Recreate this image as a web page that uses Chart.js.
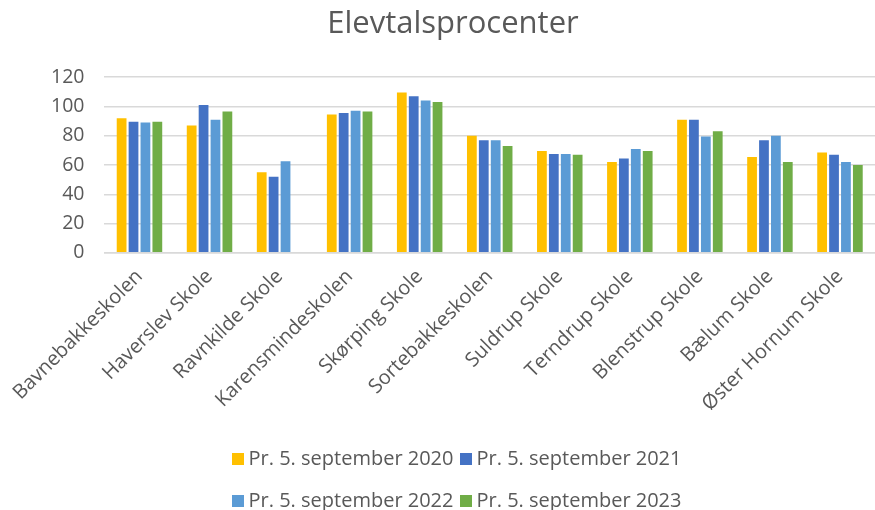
<!DOCTYPE html>
<html>
<head>
<meta charset="utf-8">
<script src="https://cdn.jsdelivr.net/npm/chart.js@4/dist/chart.umd.min.js"></script>
<style>
    body { margin: 0; background: #fff; }
    #wrap { position: relative; width: 875px; height: 510px; overflow: hidden; }
    #legende {
        position: absolute; left: 44px; top: 437px; width: 831px;
        font-family: "Open Sans", Lato, sans-serif; font-size: 20px; color: #595959;
        text-align: center; line-height: 42px;
    }
    #legende .rang { white-space: nowrap; }
    #legende .boks { display: inline-block; width: 12px; height: 12px; margin-right: 5px; vertical-align: 0px; }
    #legende .punkt { margin-right: 6px; }
</style>
</head>
<body>
<div id="wrap">
    <canvas id="chartElever" width="875" height="510"></canvas>
    <div id="legende"></div>
</div>
<script>
var skoler = ["Bavnebakkeskolen", "Haverslev Skole", "Ravnkilde Skole", "Karensmindeskolen", "Skørping Skole",
    "Sortebakkeskolen", "Suldrup Skole", "Terndrup Skole", "Blenstrup Skole", "Bælum Skole", "Øster Hornum Skole"];
var serieNavne = ["Pr. 5. september 2020", "Pr. 5. september 2021", "Pr. 5. september 2022", "Pr. 5. september 2023"];
var pct2020 = [92, 87, 55, 94.5, 109.5, 80, 69.5, 62, 91, 65.5, 68.5];
var pct2021 = [89.5, 101, 52, 95.5, 107, 77, 67.5, 64.5, 91, 77, 67];
var pct2022 = [89, 91, 62.5, 97, 104, 77, 67.5, 71, 79.5, 80, 62];
var pct2023 = [89.5, 96.5, null, 96.5, 103, 73, 67, 69.5, 83, 62, 60];
var farver = ['#FFC000', '#4472C4', '#5B9BD5', '#70AD47'];

var grå = '#595959';
var font = '"Open Sans", Lato, sans-serif';
var alleData = [pct2020, pct2021, pct2022, pct2023];

var datasets = [];
for (var i = 0; i < serieNavne.length; i++) {
    datasets.push({
        label: serieNavne[i],
        data: alleData[i],
        backgroundColor: farver[i],
        borderWidth: 0,
        barPercentage: 0.82,
        categoryPercentage: 0.68
    });
}

var ctx = document.getElementById('chartElever').getContext('2d');
var chart = new Chart(ctx, {
    type: 'bar',
    data: { labels: skoler, datasets: datasets },
    options: {
        responsive: false,
        animation: false,
        layout: { padding: { left: 31, right: 0, top: 0, bottom: 90 } },
        plugins: {
            legend: { display: false },
            tooltip: { enabled: false },
            title: {
                display: true,
                text: 'Elevtalsprocenter',
                color: grå,
                font: { family: font, size: 31, weight: 'normal' },
                padding: { top: 6, bottom: 34 }
            }
        },
        scales: {
            y: {
                min: 0, max: 120,
                ticks: { stepSize: 20, color: grå, font: { family: font, size: 19.5 }, padding: 20 },
                grid: { color: '#d9d9d9', lineWidth: 1.5, drawTicks: false },
                border: { display: false }
            },
            x: {
                ticks: { color: grå, font: { family: font, size: 20 }, minRotation: 45, maxRotation: 45, autoSkip: false, padding: 4 },
                grid: { display: false },
                border: { color: '#d9d9d9', width: 1.5 }
            }
        }
    }
});

// legend i to rækker som i Excel
var legende = document.getElementById('legende');
var html = '';
for (var r = 0; r < 2; r++) {
    html += '<div class="rang">';
    for (var k = r * 2; k < r * 2 + 2; k++) {
        html += '<span class="punkt"><span class="boks" style="background:' + farver[k] + '"></span>' + serieNavne[k] + '</span>';
    }
    html += '</div>';
}
legende.innerHTML = html;
</script>
</body>
</html>
